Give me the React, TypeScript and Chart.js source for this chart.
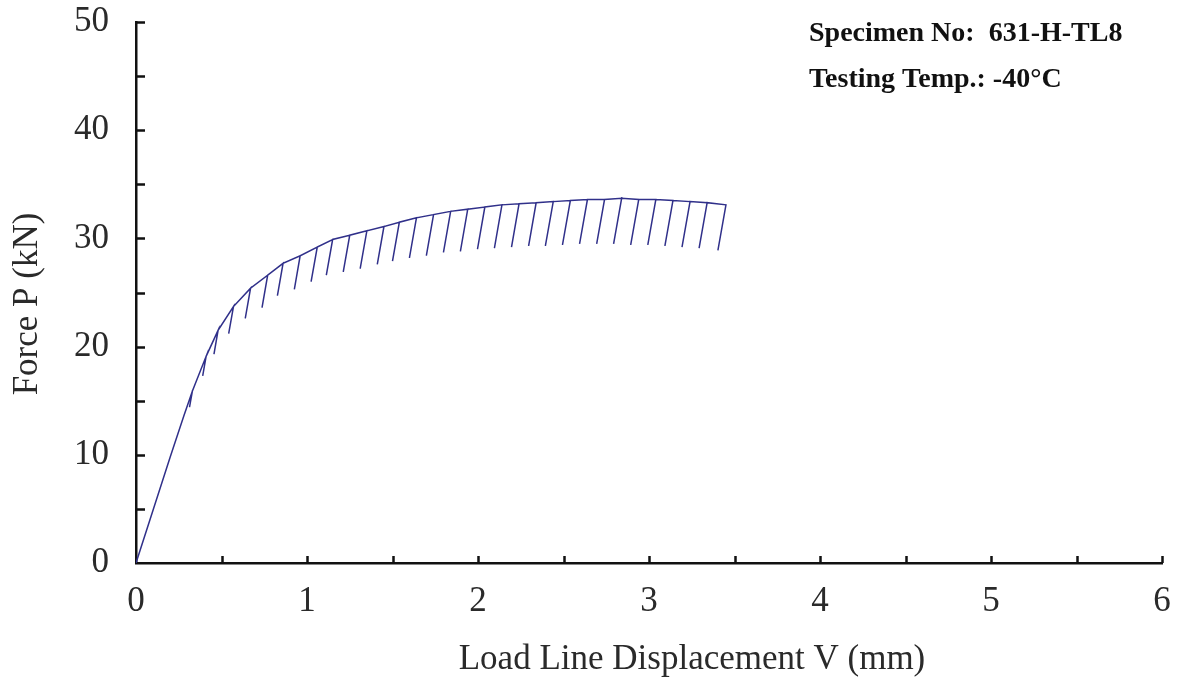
import { useEffect, useRef } from "react";
import { Chart, registerables } from "chart.js";

Chart.register(...registerables);

// Initial elastic loading branch (mm, kN)
const loadDisp = [0, 0.1, 0.2, 0.28];
const loadForce = [0, 4.9, 9.8, 13.6];

// Peaks of each partial unloading cycle
const peakDisp = [0.33, 0.41, 0.48, 0.57, 0.67, 0.77, 0.86, 0.96, 1.06, 1.15, 1.25, 1.35, 1.45, 1.54, 1.64, 1.74, 1.84, 1.94, 2.04, 2.14, 2.24, 2.34, 2.44, 2.54, 2.64, 2.74, 2.84, 2.94, 3.04, 3.14, 3.24, 3.34, 3.45];
const peakForce = [15.9, 19.1, 21.5, 23.7, 25.4, 26.6, 27.7, 28.4, 29.2, 29.9, 30.3, 30.7, 31.1, 31.5, 31.9, 32.2, 32.5, 32.7, 32.9, 33.1, 33.2, 33.3, 33.4, 33.5, 33.6, 33.6, 33.7, 33.6, 33.6, 33.5, 33.4, 33.3, 33.1];

// Bottom of each unloading line
const unloadDisp = [0.313, 0.39, 0.456, 0.542, 0.639, 0.737, 0.827, 0.926, 1.024, 1.113, 1.212, 1.311, 1.411, 1.50, 1.599, 1.698, 1.798, 1.897, 1.997, 2.096, 2.196, 2.296, 2.394, 2.494, 2.594, 2.694, 2.793, 2.893, 2.993, 3.093, 3.193, 3.293, 3.403];
const unloadForce = [14.4, 17.3, 19.3, 21.2, 22.6, 23.6, 24.7, 25.3, 26.0, 26.6, 26.9, 27.2, 27.6, 27.9, 28.2, 28.4, 28.7, 28.8, 29.0, 29.1, 29.2, 29.3, 29.3, 29.4, 29.5, 29.5, 29.5, 29.4, 29.4, 29.3, 29.2, 29.1, 28.9];

const xMin = 0;
const xMax = 6;
const yMin = 0;
const yMax = 50;
const xMajorStep = 1;
const xMinorStep = 0.5;
const yMajorStep = 10;
const yMinorStep = 5;

const xTitle = "Load Line Displacement V (mm)";
const yTitle = "Force P (kN)";
const infoLines = ["Specimen No:  631-H-TL8", "Testing Temp.: -40\u00B0C"];

const SERIF = "'Liberation Serif', 'Times New Roman', serif";

export default function App() {
  const canvasRef = useRef<HTMLCanvasElement | null>(null);

  useEffect(() => {
    document.body.style.margin = "0";
    const canvas = canvasRef.current;
    if (!canvas) return;

    const pts: { x: number; y: number }[] = [];
    for (let i = 0; i < loadDisp.length; i++) pts.push({ x: loadDisp[i], y: loadForce[i] });
    for (let i = 0; i < peakDisp.length; i++) {
      pts.push({ x: peakDisp[i], y: peakForce[i] });
      pts.push({ x: unloadDisp[i], y: unloadForce[i] });
      if (i < peakDisp.length - 1) pts.push({ x: peakDisp[i], y: peakForce[i] });
    }

    const decorPlugin = {
      id: "decor",
      afterDraw(chart: any) {
        const ctx = chart.ctx as CanvasRenderingContext2D;
        const xs = chart.scales.x;
        const ys = chart.scales.y;
        const area = chart.chartArea;
        ctx.save();
        ctx.strokeStyle = "#111";
        ctx.lineWidth = 2.5;
        ctx.beginPath();
        for (let v = yMin + yMinorStep; v <= yMax + 1e-9; v += yMinorStep) {
          const py = Math.round(ys.getPixelForValue(v)) + 0.5;
          ctx.moveTo(area.left, py);
          ctx.lineTo(area.left + 9, py);
        }
        for (let v = xMin + xMinorStep; v <= xMax + 1e-9; v += xMinorStep) {
          const px = Math.round(xs.getPixelForValue(v)) + 0.5;
          ctx.moveTo(px, area.bottom);
          ctx.lineTo(px, area.bottom - 7);
        }
        ctx.stroke();

        ctx.fillStyle = "#2a2a2a";
        ctx.font = `35px ${SERIF}`;
        ctx.textAlign = "center";
        ctx.textBaseline = "middle";
        ctx.fillText(xTitle, 692, 660);
        ctx.save();
        ctx.translate(28, 304);
        ctx.rotate(-Math.PI / 2);
        ctx.fillText(yTitle, 0, 0);
        ctx.restore();

        ctx.fillStyle = "#111";
        ctx.font = `bold 28px ${SERIF}`;
        ctx.textAlign = "left";
        ctx.textBaseline = "alphabetic";
        ctx.fillText(infoLines[0], 809, 41);
        ctx.fillText(infoLines[1], 809, 87);
        ctx.restore();
      },
    };

    const chart = new Chart(canvas, {
      type: "scatter",
      data: {
        datasets: [
          {
            data: pts,
            showLine: true,
            borderColor: "#30308a",
            borderWidth: 1.5,
            pointRadius: 0,
            tension: 0,
            fill: false,
          },
        ],
      },
      options: {
        responsive: false,
        animation: false,
        events: [],
        layout: { padding: { left: 0, top: 22, right: 18, bottom: 0 } },
        plugins: { legend: { display: false }, tooltip: { enabled: false }, title: { display: false } },
        scales: {
          x: {
            type: "linear",
            min: xMin,
            max: xMax,
            grid: { display: false, drawTicks: false, tickLength: 0 },
            border: { display: true, color: "#111", width: 2.5 },
            ticks: {
              stepSize: xMajorStep,
              padding: 18,
              color: "#2a2a2a",
              font: { family: SERIF, size: 35 },
              maxRotation: 0,
            },
            afterFit(scale: any) {
              scale.height = 119;
              scale.paddingLeft = 0;
              scale.paddingRight = 0;
            },
          },
          y: {
            type: "linear",
            min: yMin,
            max: yMax,
            grid: { display: false, drawTicks: false, tickLength: 0 },
            border: { display: true, color: "#111", width: 2.5 },
            ticks: {
              stepSize: yMajorStep,
              padding: 27,
              color: "#2a2a2a",
              font: { family: SERIF, size: 35 },
            },
            afterFit(scale: any) {
              scale.width = 136;
              scale.paddingTop = 0;
              scale.paddingBottom = 0;
            },
          },
        },
      },
      plugins: [decorPlugin],
    } as any);

    return () => chart.destroy();
  }, []);

  return (
    <div style={{ position: "absolute", left: 0, top: 0, width: 1180, height: 682, background: "#fff" }}>
      <canvas ref={canvasRef} width={1180} height={682} />
    </div>
  );
}
